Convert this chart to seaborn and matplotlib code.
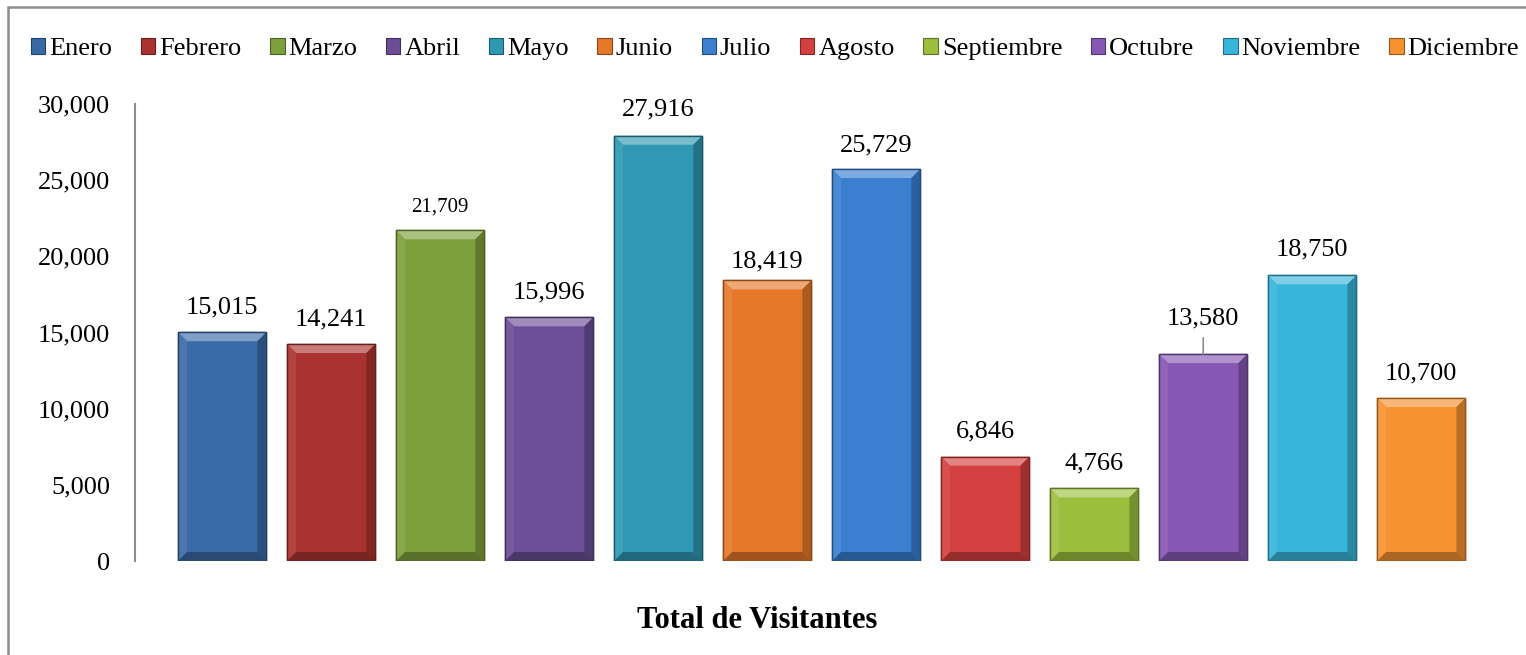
import matplotlib
matplotlib.use('Agg')
import matplotlib.pyplot as plt
import seaborn as sns
import pandas as pd
from matplotlib.patches import Patch, Polygon, Rectangle
from matplotlib.colors import to_rgb

# Datos del gráfico
meses = ['Enero', 'Febrero', 'Marzo', 'Abril', 'Mayo', 'Junio', 'Julio',
         'Agosto', 'Septiembre', 'Octubre', 'Noviembre', 'Diciembre']
visitantes = [15015, 14241, 21709, 15996, 27916, 18419, 25729,
              6846, 4766, 13580, 18750, 10700]
colores = ['#3a6aa6', '#aa3331', '#7ea03c', '#6b4e95', '#2f98b3', '#e6782a',
           '#3a7fd0', '#d4403f', '#9cc03e', '#8658b3', '#38b5da', '#f79230']

# separación de cada etiqueta sobre la barra (puntos)
offset_etiquetas = [18, 18, 17, 18, 19, 14, 17, 18, 18, 26, 19, 18]

sns.set_theme(style='white')
plt.rcParams['font.family'] = ['Liberation Serif', 'DejaVu Serif']
plt.rcParams['text.color'] = 'black'

df = pd.DataFrame({'mes': meses, 'visitantes': visitantes})

fig = plt.figure(figsize=(15.26, 6.55), dpi=100)
ax = fig.add_axes([135 / 1526, 1 - 561 / 655, 1368 / 1526, 457 / 655])

sns.barplot(data=df, x='mes', y='visitantes', hue='mes', palette=colores,
            width=0.81, legend=False, ax=ax, saturation=1)

ax.set_xlim(-0.8, 11.75)
ax.set_ylim(0, 30000)
ax.set_yticks(range(0, 30001, 5000))
ax.yaxis.set_major_formatter(matplotlib.ticker.FuncFormatter(lambda v, p: f'{int(v):,}'))
ax.tick_params(axis='y', labelsize=19, pad=18, length=0, labelcolor='black')
ax.set_xticks([])
ax.set_xlabel('')
ax.set_ylabel('')
for s in ['top', 'right', 'bottom']:
    ax.spines[s].set_visible(False)
ax.spines['left'].set_color('#8c8c8c')
ax.spines['left'].set_linewidth(1.5)


def mezcla(c, f):
    r, g, b = to_rgb(c)
    if f > 0:
        return (r + (1 - r) * f, g + (1 - g) * f, b + (1 - b) * f)
    return (r * (1 + f), g * (1 + f), b * (1 + f))


# efecto biselado de las barras
px_x = 1 / 109.0
px_y = 30000 / 457.0
bev = 9
for bar, c in zip(ax.patches, colores):
    x0, w, h = bar.get_x(), bar.get_width(), bar.get_height()
    x1 = x0 + w
    bx, by = bev * px_x, bev * px_y
    bar.set_edgecolor(mezcla(c, -0.35))
    bar.set_linewidth(1)
    caras = [
        ([(x0, h), (x1, h), (x1 - bx, h - by), (x0 + bx, h - by)], 0.35),
        ([(x0, 0), (x0, h), (x0 + bx, h - by), (x0 + bx, by)], 0.08),
        ([(x1, 0), (x1, h), (x1 - bx, h - by), (x1 - bx, by)], -0.25),
        ([(x0, 0), (x1, 0), (x1 - bx, by), (x0 + bx, by)], -0.3),
    ]
    for pts, f in caras:
        ax.add_patch(Polygon(pts, closed=True, facecolor=mezcla(c, f),
                             edgecolor='none', zorder=bar.get_zorder() + 0.5))
    ax.add_patch(Rectangle((x0, 0), w, h, facecolor='none',
                           edgecolor=mezcla(c, -0.4), lw=1,
                           zorder=bar.get_zorder() + 0.6))

# etiquetas de datos
for i, (v, off) in enumerate(zip(visitantes, offset_etiquetas)):
    size = 15 if meses[i] == 'Marzo' else 19
    props = None
    if meses[i] == 'Octubre':
        props = dict(arrowstyle='-', color='#8c8c8c', lw=1.2,
                     shrinkA=4, shrinkB=0)
    ax.annotate(f'{v:,}', xy=(i, v), xytext=(0, off), textcoords='offset points',
                ha='center', va='center', fontsize=size, color='black',
                arrowprops=props, zorder=5)

# leyenda
handles = [Patch(facecolor=c, edgecolor=mezcla(c, -0.4), lw=0.8) for c in colores]
fig.legend(handles, meses, loc='center', bbox_to_anchor=(775 / 1526, 1 - 49 / 655),
           ncol=12, frameon=False, fontsize=19, handlelength=0.55,
           handleheight=0.55, handletextpad=0.15, columnspacing=1.08,
           borderaxespad=0, labelcolor='black')

fig.text(757 / 1526, 1 - 620 / 655, 'Total de Visitantes', ha='center', va='center',
         fontsize=22, fontweight='bold', color='black')

# borde del gráfico
fig.patches.append(Rectangle((8 / 1526, -0.05), 1.05, 1 - 7 / 655 + 0.05,
                             transform=fig.transFigure, facecolor='none',
                             edgecolor='#8c8c8c', lw=1.8))

fig.savefig('out.png', dpi=100)
